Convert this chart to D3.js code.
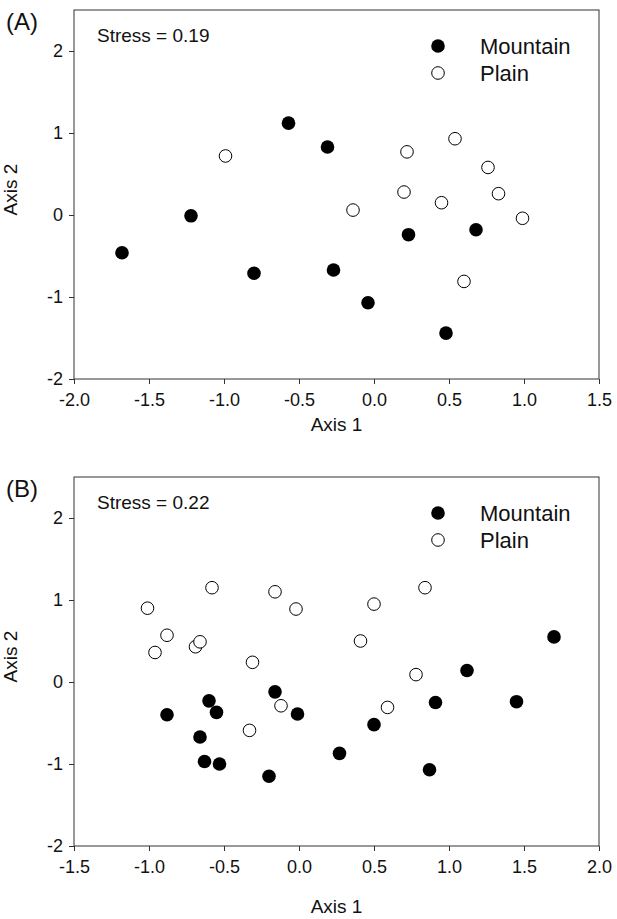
<!DOCTYPE html>
<html>
<head>
<meta charset="utf-8">
<script src="https://cdn.jsdelivr.net/npm/d3@7"></script>
<style>
  body { margin: 0; background: #fff; }
  text { font-family: "Liberation Sans", Arial, sans-serif; fill: #111; }
</style>
</head>
<body>
<div id="d3-container"></div>
<script>
// Datos: coordenadas NMDS [eje 1, eje 2]
const mountainA = [[-1.68,-0.46],[-1.22,-0.01],[-0.80,-0.71],[-0.57,1.12],[-0.31,0.83],
                   [-0.27,-0.67],[-0.04,-1.07],[0.23,-0.24],[0.68,-0.18],[0.48,-1.44]]
const plainA = [[-0.99,0.72],[-0.14,0.06],[0.20,0.28],[0.22,0.77],[0.45,0.15],
                [0.54,0.93],[0.76,0.58],[0.83,0.26],[0.99,-0.04],[0.60,-0.81]]

const mountainB = [[-0.88,-0.40],[-0.60,-0.23],[-0.55,-0.37],[-0.66,-0.67],[-0.63,-0.97],
                   [-0.53,-1.00],[-0.20,-1.15],[-0.16,-0.12],[-0.01,-0.39],[0.27,-0.87],
                   [0.50,-0.52],[0.87,-1.07],[0.91,-0.25],[1.12,0.14],[1.45,-0.24],[1.70,0.55]]
const plainB = [[-1.01,0.90],[-0.88,0.57],[-0.96,0.36],[-0.69,0.43],[-0.66,0.49],
                [-0.58,1.15],[-0.31,0.24],[-0.16,1.10],[-0.02,0.89],[0.41,0.50],
                [0.50,0.95],[0.84,1.15],[0.78,0.09],[-0.12,-0.29],[-0.33,-0.59],[0.59,-0.31]]

const xTicksA = [-2.0, -1.5, -1.0, -0.5, 0.0, 0.5, 1.0, 1.5]
const xTicksB = [-1.5, -1.0, -0.5, 0.0, 0.5, 1.0, 1.5, 2.0]
const yTicks = [-2, -1, 0, 1, 2]
const groups = ["Mountain", "Plain"]

// Contenedor SVG
const width = 617, height = 919
const svg = d3.select("#d3-container")
              .append("svg")
                .attr("width", width)
                .attr("height", height)

function panel(top, label, stress, xDomain, xTicks, mountain, plain, titleGap) {
  const left = 74, w = 525, h = 369
  const g = svg.append("g").attr("transform", `translate(${left},${top})`)

  const x = d3.scaleLinear().domain(xDomain).range([0, w])
  const y = d3.scaleLinear().domain([-2, 2.5]).range([h, 0])

  // Marco
  g.append("rect")
    .attr("width", w).attr("height", h)
    .attr("fill", "none").attr("stroke", "#333").attr("stroke-width", 1)

  // Eje X
  const gx = g.append("g")
    .attr("transform", `translate(0,${h})`)
    .call(d3.axisBottom(x).tickValues(xTicks).tickSize(5).tickSizeOuter(0)
      .tickPadding(9).tickFormat(d => d.toFixed(1)))
  // Eje Y
  const gy = g.append("g")
    .call(d3.axisLeft(y).tickValues(yTicks).tickSize(5).tickSizeOuter(0)
      .tickPadding(6).tickFormat(d => String(d)))
  ;[gx, gy].forEach(a => {
    a.select(".domain").remove()
    a.selectAll("line").attr("stroke", "#333")
    a.selectAll("text").attr("font-size", 18).attr("font-family", null).attr("fill", "#111")
  })

  // Títulos de ejes
  g.append("text")
    .attr("x", w / 2).attr("y", h + titleGap)
    .attr("text-anchor", "middle").attr("font-size", 19)
    .text("Axis 1")
  g.append("text")
    .attr("transform", `translate(${-57},${h / 2 - 5}) rotate(-90)`)
    .attr("text-anchor", "middle").attr("font-size", 19)
    .text("Axis 2")

  // Puntos
  g.selectAll(".plain").data(plain).join("circle")
    .attr("cx", d => x(d[0])).attr("cy", d => y(d[1])).attr("r", 6.3)
    .attr("fill", "#fff").attr("stroke", "#000").attr("stroke-width", 1)
  g.selectAll(".mountain").data(mountain).join("circle")
    .attr("cx", d => x(d[0])).attr("cy", d => y(d[1])).attr("r", 6.8)
    .attr("fill", "#000")

  // Anotaciones
  g.append("text")
    .attr("x", 23).attr("y", 32)
    .attr("font-size", 19)
    .text(`Stress = ${stress}`)
  svg.append("text")
    .attr("x", 6).attr("y", top + 20)
    .attr("font-size", 24)
    .text(label)

  // Leyenda
  groups.forEach((name, i) => {
    const ly = 36 + i * 27
    g.append("circle")
      .attr("cx", 364).attr("cy", ly).attr("r", i === 0 ? 6.8 : 6.3)
      .attr("fill", i === 0 ? "#000" : "#fff")
      .attr("stroke", "#000").attr("stroke-width", i === 0 ? 0 : 1)
    g.append("text")
      .attr("x", 406).attr("y", ly + 8)
      .attr("font-size", 22)
      .text(name)
  })
}

panel(10, "(A)", "0.19", [-2.0, 1.5], xTicksA, mountainA, plainA, 52)
panel(477, "(B)", "0.22", [-1.5, 2.0], xTicksB, mountainB, plainB, 67)
</script>
</body>
</html>
